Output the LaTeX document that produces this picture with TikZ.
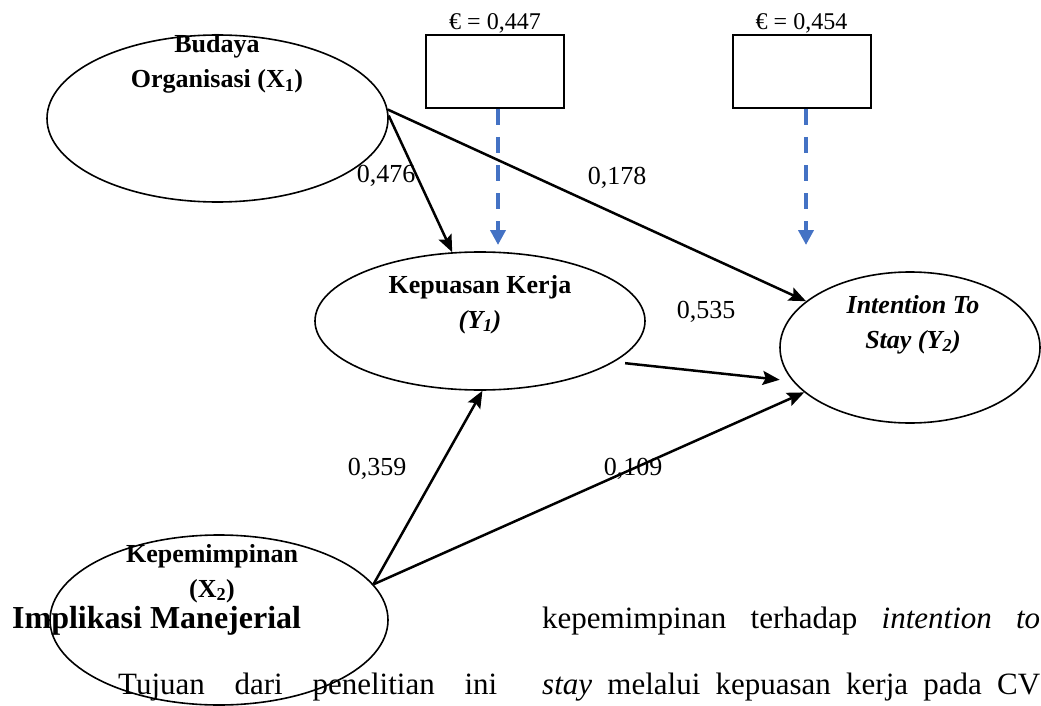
\documentclass[tikz,border=0pt]{standalone}
\usepackage{fontspec}
\setmainfont{Liberation Serif}
\usetikzlibrary{shapes.geometric,arrows.meta}
\definecolor{errblue}{HTML}{4472C4}

\begin{document}
\begin{tikzpicture}[x=1pt, y=-1pt,
		latent/.style={ellipse, draw, line width=1.6pt, inner sep=0pt},
		errbox/.style={draw, line width=2pt, minimum width=138pt, minimum height=73pt, inner sep=0pt},
		errtext/.style={inner sep=1pt, font=\fontsize{24}{28}\selectfont},
		errline/.style={draw=errblue, line width=4pt, dash pattern=on 16pt off 12pt, -{Triangle[length=15pt, width=15pt]}},
		effect/.style={line width=2.5pt, -{Stealth[length=17pt, width=14pt, inset=3pt]}},
		latentlab/.style={anchor=base, align=center, inner sep=0pt, font=\fontsize{26}{35}\selectfont\bfseries},
		coef/.style={anchor=base, inner sep=0pt, font=\fontsize{26}{31}\selectfont},
		heading/.style={anchor=base west, inner sep=0pt, font=\fontsize{32}{38}\selectfont\bfseries},
		body/.style={anchor=base west, inner sep=0pt, font=\fontsize{31}{36}\selectfont}]
	\useasboundingbox (0, 0) rectangle (1041, 706);
	\node[latent, minimum width=341pt, minimum height=167pt] (x1) at (217.5, 118.5) {};
	\node[latent, minimum width=330pt, minimum height=138pt] (y1) at (480, 321) {};
	\node[latent, minimum width=260pt, minimum height=151pt] (y2) at (910, 347.5) {};
	\node[latent, minimum width=338pt, minimum height=170pt] (x2) at (219, 620) {};
	\foreach \err/\x/\val in {e1/495/{0,447}, e2/801.5/{0,454}}
		{
			\node[errbox] (\err) at (\x, 71.5) {};
			\node[errtext, anchor=south] (lab\err) at (\err.north) {€ = \val};
		}
	\foreach \err/\x in {e1/498, e2/806}
		{
			\coordinate (tip\err) at (\x, 245);
			\draw[errline] (tip\err |- \err.south) -- (tip\err);
		}
	\draw[effect] (x1.1) -- (y1.112);
	\draw[effect] (x1.3) -- (y2.156);
	\draw[effect, shorten <=11pt, shorten >=13pt] (y1.-17) -- (y2.196);
	\draw[effect] (x2.13) -- (y1.-88);
	\draw[effect] (x2.13) -- (y2.203);
	\node[coef] (kx1y1) at (386, 182) {0,476};
	\node[coef] (kx1y2) at (617, 184) {0,178};
	\node[coef] (ky1y2) at (706, 318) {0,535};
	\node[coef] (kx2y1) at (377, 475) {0,359};
	\node[coef] (kx2y2) at (633, 475) {0,109};
	\node[latentlab] (x1lab) at (217, 88) {Budaya\\Organisasi (X\textsubscript{1})};
	\node[latentlab] (y1lab) at (480, 328) {Kepuasan Kerja\\\textit{(Y\textsubscript{1})}};
	\node[latentlab] (y2lab) at (913, 348) {\textit{Intention To}\\\textit{Stay (Y\textsubscript{2})}};
	\node[latentlab] (x2lab) at (212, 597) {Kepemimpinan\\(X\textsubscript{2})};
	\node[heading] (head) at (12, 628) {Implikasi Manejerial};
	\node[body] (line1) at (542, 628) {\makebox[498pt][s]{kepemimpinan terhadap \textit{intention to}}};
	\node[body] (line2) at (542, 694) {\makebox[498pt][s]{\textit{stay} melalui kepuasan kerja pada CV}};
	\node[body] (line3) at (118, 694) {\makebox[379pt][s]{Tujuan dari penelitian ini}};
\end{tikzpicture}
\end{document}
